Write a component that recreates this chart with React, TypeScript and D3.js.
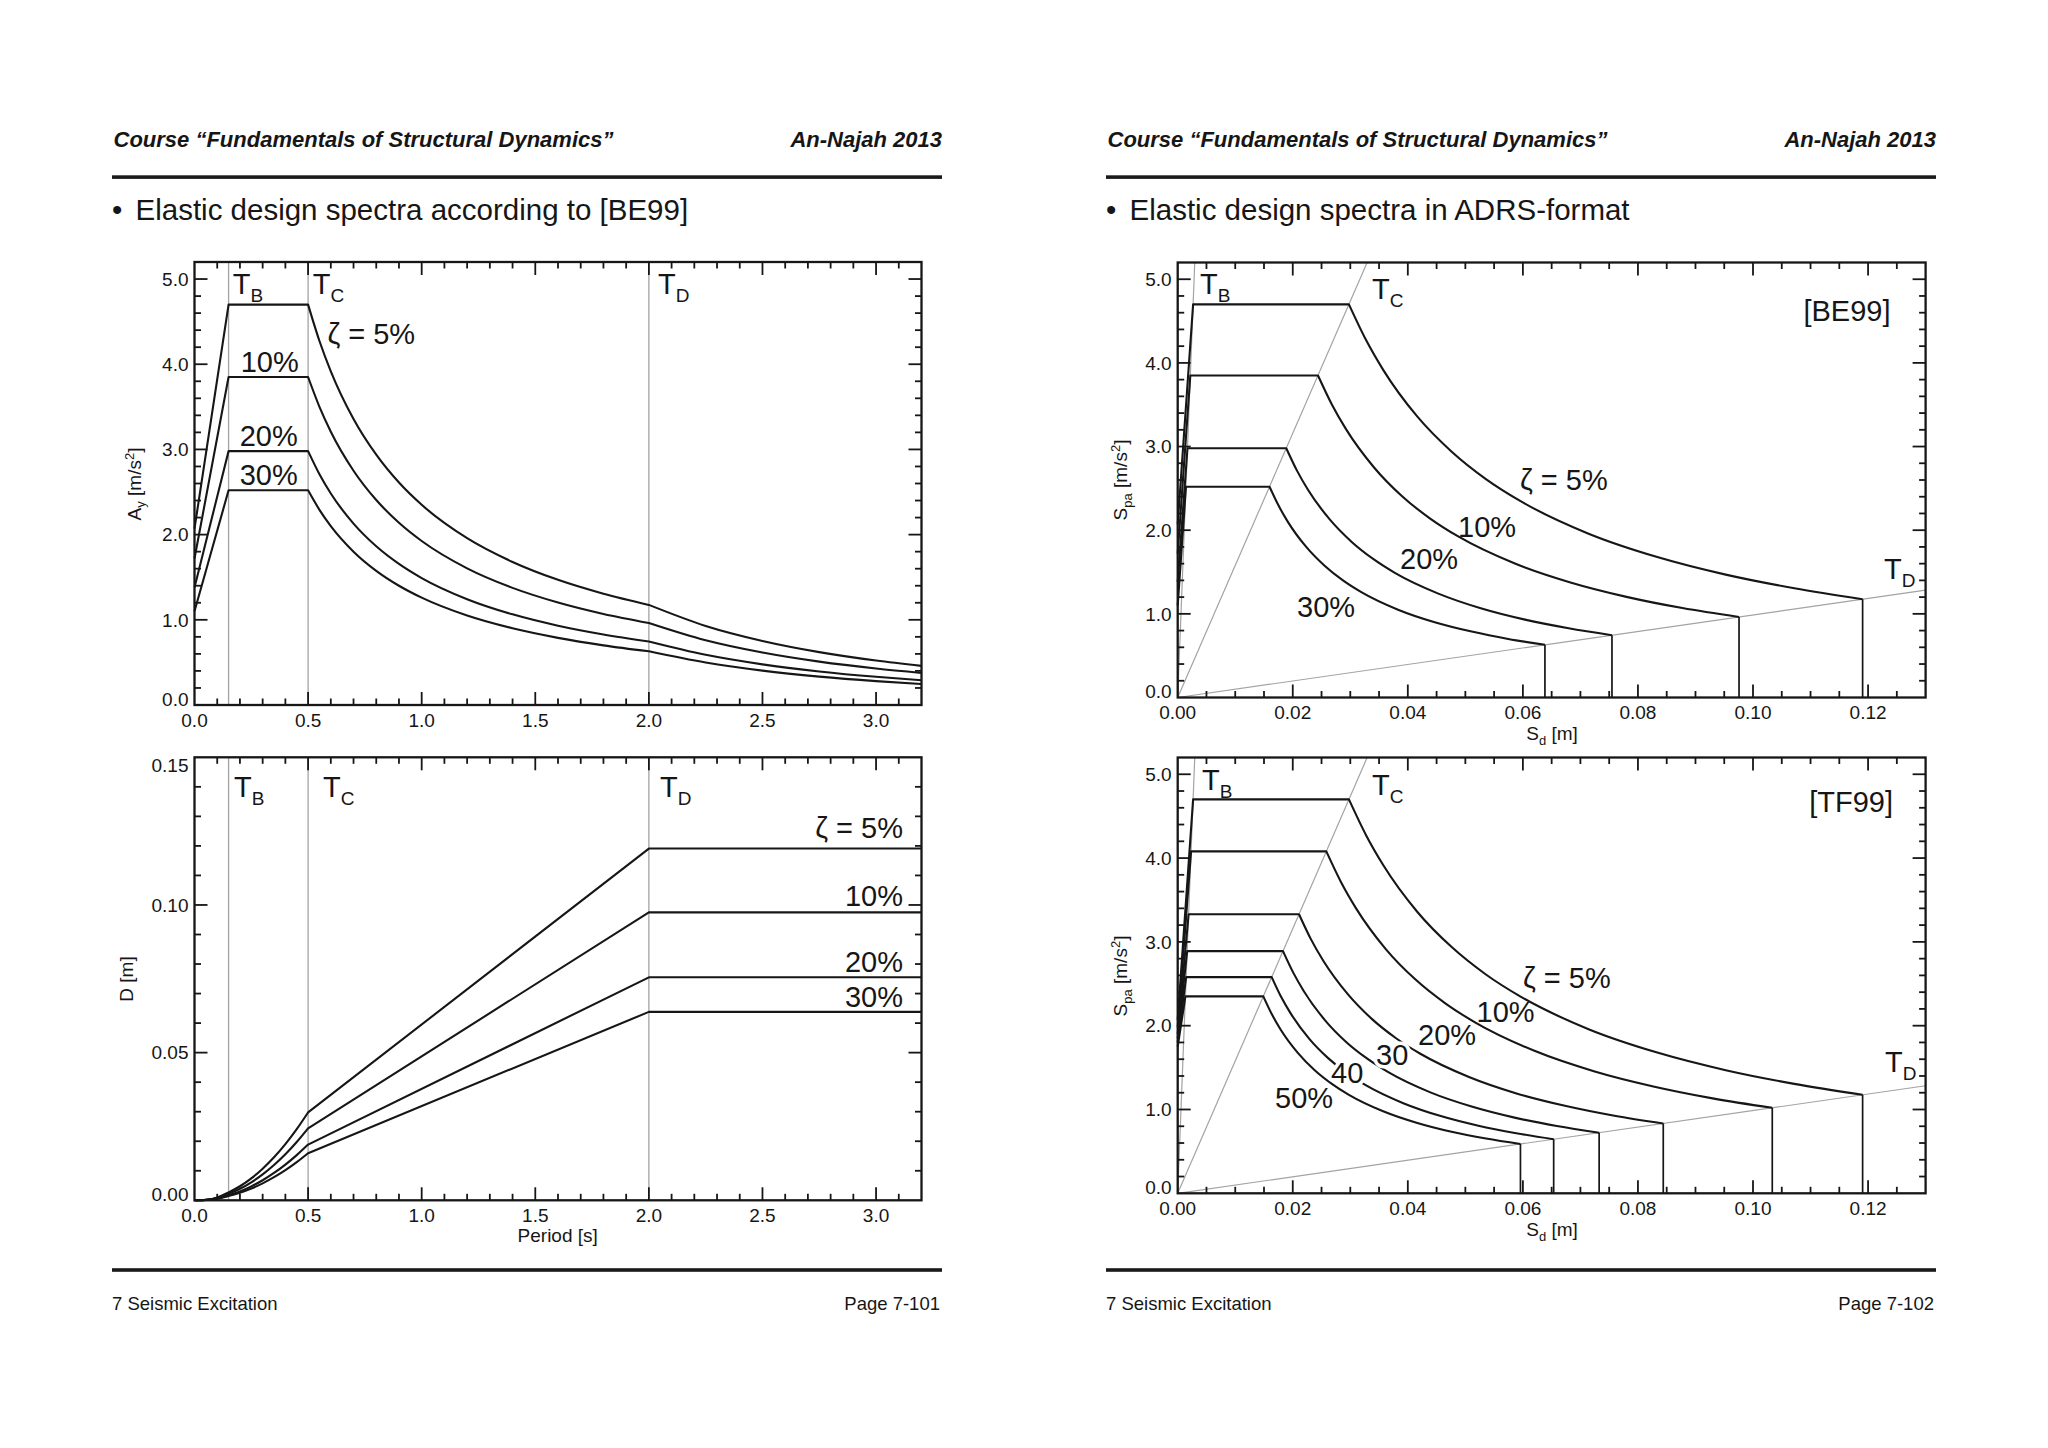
import React from "react";
import * as d3 from "d3";

// ---------------- data ----------------
const CORNER_PERIODS = [0.15, 0.5, 2.0];
const CORNER_NAMES = ["B", "C", "D"];

// Elastic design spectra [BE99], A_y (m/s^2) read at these periods (s)
const PERIODS = [0, 0.15, 0.5, 0.55, 0.6, 0.7, 0.8, 0.9, 1.0, 1.2, 1.4, 1.6, 1.8, 2.0, 2.25, 2.5, 2.75, 3.0, 3.2];
const BE99_NAMES = ["ζ = 5%", "10%", "20%", "30%"];
const BE99_SA_5 = [2.07, 4.7, 4.7, 4.273, 3.917, 3.357, 2.938, 2.611, 2.35, 1.958, 1.679, 1.469, 1.306, 1.175, 0.928, 0.752, 0.621, 0.522, 0.459];
const BE99_SA_10 = [1.72, 3.85, 3.85, 3.5, 3.208, 2.75, 2.406, 2.139, 1.925, 1.604, 1.375, 1.203, 1.069, 0.963, 0.76, 0.616, 0.509, 0.428, 0.376];
const BE99_SA_20 = [1.38, 2.98, 2.98, 2.709, 2.483, 2.129, 1.863, 1.656, 1.49, 1.242, 1.064, 0.931, 0.828, 0.745, 0.589, 0.477, 0.394, 0.331, 0.291];
const BE99_SA_30 = [1.1, 2.52, 2.52, 2.291, 2.1, 1.8, 1.575, 1.4, 1.26, 1.05, 0.9, 0.788, 0.7, 0.63, 0.498, 0.403, 0.333, 0.28, 0.246];

// Displacement spectra D (m)
const D_PERIODS = [0, 0.05, 0.1, 0.15, 0.2, 0.25, 0.3, 0.35, 0.4, 0.45, 0.5, 2.0, 3.2];
const D_5 = [0, 0.00019, 0.00097, 0.00268, 0.00476, 0.00744, 0.01071, 0.01458, 0.01905, 0.02411, 0.02976, 0.1191, 0.1191];
const D_10 = [0, 0.00015, 0.0008, 0.00219, 0.0039, 0.0061, 0.00878, 0.01195, 0.0156, 0.01975, 0.02438, 0.0975, 0.0975];
const D_20 = [0, 0.00012, 0.00062, 0.0017, 0.00302, 0.00472, 0.00679, 0.00925, 0.01208, 0.01529, 0.01887, 0.0755, 0.0755];
const D_30 = [0, 0.0001, 0.00052, 0.00144, 0.00255, 0.00399, 0.00575, 0.00782, 0.01021, 0.01293, 0.01596, 0.0638, 0.0638];

// [TF99] spectra, S_pa (m/s^2) at these periods (s)
const ADRS_PERIODS = [0, 0.15, 0.5, 0.55, 0.6, 0.7, 0.8, 0.9, 1.0, 1.2, 1.4, 1.6, 1.8, 2.0];
const TF99_NAMES = ["ζ = 5%", "10%", "20%", "30", "40", "50%"];
const TF99_SA_5 = [2.07, 4.7, 4.7, 4.273, 3.917, 3.357, 2.938, 2.611, 2.35, 1.958, 1.679, 1.469, 1.306, 1.175];
const TF99_SA_10 = [1.98, 4.08, 4.08, 3.709, 3.4, 2.914, 2.55, 2.267, 2.04, 1.7, 1.457, 1.275, 1.133, 1.02];
const TF99_SA_20 = [1.9, 3.33, 3.33, 3.027, 2.775, 2.379, 2.081, 1.85, 1.665, 1.388, 1.189, 1.041, 0.925, 0.833];
const TF99_SA_30 = [1.85, 2.89, 2.89, 2.627, 2.408, 2.064, 1.806, 1.606, 1.445, 1.204, 1.032, 0.903, 0.803, 0.723];
const TF99_SA_40 = [1.8, 2.58, 2.58, 2.345, 2.15, 1.843, 1.613, 1.433, 1.29, 1.075, 0.921, 0.806, 0.717, 0.645];
const TF99_SA_50 = [1.75, 2.35, 2.35, 2.136, 1.958, 1.679, 1.469, 1.306, 1.175, 0.979, 0.839, 0.734, 0.653, 0.588];

// axis ticks
const X_TICKS_PERIOD = [0, 0.5, 1.0, 1.5, 2.0, 2.5, 3.0];
const Y_TICKS_SA = [0, 1, 2, 3, 4, 5];
const Y_TICKS_D = [0, 0.05, 0.1, 0.15];
const X_TICKS_SD = [0, 0.02, 0.04, 0.06, 0.08, 0.1, 0.12];
const MINOR_PERIOD = 0.1;
const MINOR_SA = 0.2;
const MINOR_D = 0.01;
const MINOR_SD = 0.005;

// ---------------- styling ----------------
const FONT = "'Liberation Sans', Arial, Helvetica, sans-serif";
const INK = "#161616";
const GUIDE = "#a3a3a3";
const CURVE_W = 2.1;
const TICK_FS = 19;
const LABEL_FS = 29;

const lin = d3.line<[number, number]>().curve(d3.curveLinear);
const mono = d3.line<[number, number]>().curve(d3.curveMonotoneX);
const join = (...ds: (string | null)[]) =>
  ds.map((d, i) => (i === 0 ? d || "" : (d || "").replace(/^M/, "L"))).join("");
const toSd = (t: number, sa: number) => (sa * t * t) / (4 * Math.PI * Math.PI);

function Frame({ xs, ys, xMajor, xStep, yMajor, yStep, xFmt, yFmt }: any) {
  const [x0, x1] = xs.range();
  const [y1, y0] = ys.range();
  const [dx0, dx1] = xs.domain();
  const [dy0, dy1] = ys.domain();
  const xMinor = d3.range(Math.floor((dx1 - dx0) / xStep + 1e-6) + 1).map((i) => dx0 + i * xStep);
  const yMinor = d3.range(Math.floor((dy1 - dy0) / yStep + 1e-6) + 1).map((i) => dy0 + i * yStep);
  const isMaj = (v: number, arr: number[], step: number) => arr.some((m) => Math.abs(m - v) < step * 0.01);
  const els: any[] = [];
  xMinor.forEach((v, i) => {
    const px = xs(v);
    if (px <= x0 + 1 || px >= x1 - 1) return;
    const L = isMaj(v, xMajor, xStep) ? 13 : 6.5;
    els.push(<line key={"xb" + i} x1={px} x2={px} y1={y1} y2={y1 - L} />);
    els.push(<line key={"xt" + i} x1={px} x2={px} y1={y0} y2={y0 + L} />);
  });
  yMinor.forEach((v, i) => {
    const py = ys(v);
    if (py <= y0 + 1 || py >= y1 - 1) return;
    const L = isMaj(v, yMajor, yStep) ? 13 : 6.5;
    els.push(<line key={"yl" + i} x1={x0} x2={x0 + L} y1={py} y2={py} />);
    els.push(<line key={"yr" + i} x1={x1} x2={x1 - L} y1={py} y2={py} />);
  });
  return (
    <g>
      <g stroke={INK} strokeWidth={1.8}>{els}</g>
      <rect x={x0} y={y0} width={x1 - x0} height={y1 - y0} fill="none" stroke={INK} strokeWidth={2.3} />
      <g fontSize={TICK_FS} fill={INK} textAnchor="middle">
        {xMajor.map((v: number) => (
          <text key={"xl" + v} x={xs(v)} y={y1 + 21.7}>
            {xFmt(v)}
          </text>
        ))}
      </g>
      <g fontSize={TICK_FS} fill={INK} textAnchor="end">
        {yMajor.map((v: number) => (
          <text key={"yl" + v} x={x0 - 6} y={Math.max(y0 + 8, Math.min(y1 - 6, ys(v))) + 6.8}>
            {yFmt(v)}
          </text>
        ))}
      </g>
    </g>
  );
}

function TLabel({ x, y, sub }: any) {
  return (
    <text x={x} y={y} fontSize={LABEL_FS} fill={INK}>
      T
      <tspan fontSize={19} dy={8}>
        {sub}
      </tspan>
    </text>
  );
}

function PageHeader({ dx, bullet }: any) {
  return (
    <g fill={INK}>
      <text x={113.5 + dx} y={146.5} fontSize={22} fontWeight={700} fontStyle="italic">
        Course “Fundamentals of Structural Dynamics”
      </text>
      <text x={942 + dx} y={146.5} fontSize={22} fontWeight={700} fontStyle="italic" textAnchor="end">
        An-Najah 2013
      </text>
      <rect x={112 + dx} y={175.3} width={830} height={3.6} fill="#1a1a1a" />
      <text x={112 + dx} y={219.5} fontSize={29.5}>
        •
      </text>
      <text x={135.5 + dx} y={219.5} fontSize={29.5}>
        {bullet}
      </text>
      <rect x={112 + dx} y={1268.2} width={830} height={3.6} fill="#1a1a1a" />
    </g>
  );
}

export default function App() {
  // scales
  const tlX = d3.scaleLinear().domain([0, 3.2]).range([194.5, 921.5]);
  const tlY = d3.scaleLinear().domain([0, 5.2]).range([705, 262]);
  const blX = d3.scaleLinear().domain([0, 3.2]).range([194.5, 921.5]);
  const blY = d3.scaleLinear().domain([0, 0.15]).range([1200.3, 757.3]);
  const trX = d3.scaleLinear().domain([0, 0.13]).range([1177.7, 1925.6]);
  const trY = d3.scaleLinear().domain([0, 5.2]).range([697.5, 262.5]);
  const brX = d3.scaleLinear().domain([0, 0.13]).range([1177.7, 1925.6]);
  const brY = d3.scaleLinear().domain([0, 5.2]).range([1193.3, 757.5]);

  const f1 = d3.format(".1f");
  const f2 = d3.format(".2f");

  const be99 = [BE99_SA_5, BE99_SA_10, BE99_SA_20, BE99_SA_30];
  const dSeries = [D_5, D_10, D_20, D_30];
  const tf99 = [TF99_SA_5, TF99_SA_10, TF99_SA_20, TF99_SA_30, TF99_SA_40, TF99_SA_50];

  const inRange = (t: number, lo: number, hi: number) => t >= lo - 1e-9 && t <= hi + 1e-9;

  const saPath = (vals: number[], xs: any, ys: any) => {
    const pts = PERIODS.map((t, i) => [t, vals[i]] as [number, number]);
    const seg = (lo: number, hi: number) =>
      pts.filter(([t]) => inRange(t, lo, hi)).map(([t, v]) => [xs(t), ys(v)] as [number, number]);
    return join(lin(seg(0, 0.5)), mono(seg(0.5, 2.0)), mono(seg(2.0, 3.2)));
  };

  const dPath = (vals: number[], xs: any, ys: any) => {
    const pts = D_PERIODS.map((t, i) => [t, vals[i]] as [number, number]);
    const seg = (lo: number, hi: number) =>
      pts.filter(([t]) => inRange(t, lo, hi)).map(([t, v]) => [xs(t), ys(v)] as [number, number]);
    return join(mono(seg(0, 0.5)), lin(seg(0.5, 3.2)));
  };

  const adrsPaths = (periods: number[], vals: number[], xs: any, ys: any) => {
    const pts = periods.map((t, i) => ({ t, sd: toSd(t, vals[i]), sa: vals[i] })).filter((p) => p.t <= 2.0 + 1e-9);
    const seg = (lo: number, hi: number) =>
      pts.filter((p) => inRange(p.t, lo, hi)).map((p) => [xs(p.sd), ys(p.sa)] as [number, number]);
    const last = pts[pts.length - 1];
    return {
      curve: join(lin(seg(0, 0.5)), mono(seg(0.5, 2.0))),
      drop: lin([
        [xs(last.sd), ys(last.sa)],
        [xs(last.sd), ys(0)],
      ]),
    };
  };

  const radial = (xs: any, ys: any) =>
    CORNER_PERIODS.map((T) => {
      const k = Math.pow((2 * Math.PI) / T, 2);
      const xMax = xs.domain()[1];
      const yMax = ys.domain()[1];
      const end = yMax / k <= xMax ? [yMax / k, yMax] : [xMax, k * xMax];
      return lin([
        [xs(0), ys(0)],
        [xs(end[0]), ys(end[1])],
      ]);
    });

  const tlLabelPos = [
    [327.4, 344],
    [240.7, 371.7],
    [239.7, 446],
    [239.7, 485],
  ];
  const blLabelPos = [838.3, 906, 971.7, 1006.7];
  const trLabelPos = [
    [1520, 490],
    [1458, 536.7],
    [1400, 569.3],
    [1297, 616.7],
  ];
  const brLabelPos = [
    [1523, 988.3],
    [1476.5, 1021.7],
    [1418, 1045],
    [1376, 1065],
    [1331, 1083.3],
    [1275, 1108.3],
  ];

  return (
    <svg
      width={2048}
      height={1448}
      viewBox="0 0 2048 1448"
      style={{ position: "absolute", left: 0, top: 0, display: "block", background: "#fff" }}
      fontFamily={FONT}
    >
      <rect x={0} y={0} width={2048} height={1448} fill="#fff" />

      <PageHeader dx={0} bullet="Elastic design spectra according to [BE99]" />
      <PageHeader dx={994} bullet="Elastic design spectra in ADRS-format" />

      <g fontSize={18.5} fill={INK}>
        <text x={112} y={1310}>7 Seismic Excitation</text>
        <text x={940} y={1310} textAnchor="end">
          Page 7-101
        </text>
        <text x={1106} y={1310}>7 Seismic Excitation</text>
        <text x={1934} y={1310} textAnchor="end">
          Page 7-102
        </text>
      </g>

      {/* ---------- top-left: A_y vs period ---------- */}
      <g>
        {CORNER_PERIODS.map((T) => (
          <line key={T} x1={tlX(T)} x2={tlX(T)} y1={tlY(0)} y2={tlY(5.2)} stroke={GUIDE} strokeWidth={1.3} />
        ))}
        <g fill="none" stroke={INK} strokeWidth={CURVE_W} strokeLinejoin="round">
          {be99.map((vals, i) => (
            <path key={i} d={saPath(vals, tlX, tlY)} />
          ))}
        </g>
        <Frame xs={tlX} ys={tlY} xMajor={X_TICKS_PERIOD} xStep={MINOR_PERIOD} yMajor={Y_TICKS_SA} yStep={MINOR_SA} xFmt={f1} yFmt={f1} />
        <TLabel x={232.7} y={294} sub={CORNER_NAMES[0]} />
        <TLabel x={312.8} y={294} sub={CORNER_NAMES[1]} />
        <TLabel x={658} y={294} sub={CORNER_NAMES[2]} />
        <g fontSize={LABEL_FS} fill={INK}>
          {BE99_NAMES.map((n, i) => (
            <text key={n} x={tlLabelPos[i][0]} y={tlLabelPos[i][1]}>
              {n}
            </text>
          ))}
        </g>
        <text transform="translate(141,484) rotate(-90)" textAnchor="middle" fontSize={TICK_FS} fill={INK}>
          A
          <tspan fontSize={13} dy={4}>
            y
          </tspan>
          <tspan dy={-4}> [m/s</tspan>
          <tspan fontSize={13} dy={-7}>
            2
          </tspan>
          <tspan dy={7}>]</tspan>
        </text>
      </g>

      {/* ---------- bottom-left: D vs period ---------- */}
      <g>
        {CORNER_PERIODS.map((T) => (
          <line key={T} x1={blX(T)} x2={blX(T)} y1={blY(0)} y2={blY(0.15)} stroke={GUIDE} strokeWidth={1.3} />
        ))}
        <g fill="none" stroke={INK} strokeWidth={CURVE_W} strokeLinejoin="round">
          {dSeries.map((vals, i) => (
            <path key={i} d={dPath(vals, blX, blY)} />
          ))}
        </g>
        <Frame xs={blX} ys={blY} xMajor={X_TICKS_PERIOD} xStep={MINOR_PERIOD} yMajor={Y_TICKS_D} yStep={MINOR_D} xFmt={f1} yFmt={f2} />
        <TLabel x={234} y={797} sub={CORNER_NAMES[0]} />
        <TLabel x={323} y={797} sub={CORNER_NAMES[1]} />
        <TLabel x={660} y={797} sub={CORNER_NAMES[2]} />
        <g fontSize={LABEL_FS} fill={INK} textAnchor="end">
          {BE99_NAMES.map((n, i) => (
            <text key={n} x={903} y={blLabelPos[i]}>
              {n}
            </text>
          ))}
        </g>
        <text transform="translate(133,979) rotate(-90)" textAnchor="middle" fontSize={TICK_FS} fill={INK}>
          D [m]
        </text>
        <text x={557.7} y={1241.7} textAnchor="middle" fontSize={TICK_FS} fill={INK}>
          Period [s]
        </text>
      </g>

      {/* ---------- top-right: ADRS [BE99] ---------- */}
      <g>
        <g stroke={GUIDE} strokeWidth={1.2} fill="none">
          {radial(trX, trY).map((d, i) => (
            <path key={i} d={d || ""} />
          ))}
        </g>
        <g fill="none" stroke={INK} strokeLinejoin="round">
          {be99.map((vals, i) => {
            const p = adrsPaths(PERIODS, vals, trX, trY);
            return (
              <g key={i}>
                <path d={p.curve} strokeWidth={CURVE_W} />
                <path d={p.drop || ""} strokeWidth={1.7} />
              </g>
            );
          })}
        </g>
        <Frame xs={trX} ys={trY} xMajor={X_TICKS_SD} xStep={MINOR_SD} yMajor={Y_TICKS_SA} yStep={MINOR_SA} xFmt={f2} yFmt={f1} />
        <TLabel x={1200} y={294} sub={CORNER_NAMES[0]} />
        <TLabel x={1372} y={298.5} sub={CORNER_NAMES[1]} />
        <TLabel x={1884} y={579} sub={CORNER_NAMES[2]} />
        <text x={1890.5} y={321} textAnchor="end" fontSize={LABEL_FS} fill={INK}>
          [BE99]
        </text>
        <g fontSize={LABEL_FS} fill={INK}>
          {BE99_NAMES.map((n, i) => (
            <text key={n} x={trLabelPos[i][0]} y={trLabelPos[i][1]}>
              {n}
            </text>
          ))}
        </g>
        <text transform="translate(1127,480) rotate(-90)" textAnchor="middle" fontSize={TICK_FS} fill={INK}>
          S
          <tspan fontSize={13} dy={5}>
            pa
          </tspan>
          <tspan dy={-5}> [m/s</tspan>
          <tspan fontSize={13} dy={-7}>
            2
          </tspan>
          <tspan dy={7}>]</tspan>
        </text>
        <text x={1552} y={740} textAnchor="middle" fontSize={TICK_FS} fill={INK}>
          S
          <tspan fontSize={13} dy={5}>
            d
          </tspan>
          <tspan dy={-5}> [m]</tspan>
        </text>
      </g>

      {/* ---------- bottom-right: ADRS [TF99] ---------- */}
      <g>
        <g stroke={GUIDE} strokeWidth={1.2} fill="none">
          {radial(brX, brY).map((d, i) => (
            <path key={i} d={d || ""} />
          ))}
        </g>
        <g fill="none" stroke={INK} strokeLinejoin="round">
          {tf99.map((vals, i) => {
            const p = adrsPaths(ADRS_PERIODS, vals, brX, brY);
            return (
              <g key={i}>
                <path d={p.curve} strokeWidth={CURVE_W} />
                <path d={p.drop || ""} strokeWidth={1.7} />
              </g>
            );
          })}
        </g>
        <Frame xs={brX} ys={brY} xMajor={X_TICKS_SD} xStep={MINOR_SD} yMajor={Y_TICKS_SA} yStep={MINOR_SA} xFmt={f2} yFmt={f1} />
        <TLabel x={1202} y={790} sub={CORNER_NAMES[0]} />
        <TLabel x={1372} y={795} sub={CORNER_NAMES[1]} />
        <TLabel x={1885} y={1072} sub={CORNER_NAMES[2]} />
        <text x={1893} y={811.7} textAnchor="end" fontSize={LABEL_FS} fill={INK}>
          [TF99]
        </text>
        <g fontSize={LABEL_FS} fill={INK}>
          {TF99_NAMES.map((n, i) => (
            <text
              key={n}
              x={brLabelPos[i][0]}
              y={brLabelPos[i][1]}
              stroke={i === 3 || i === 4 ? "#fff" : "none"}
              strokeWidth={i === 3 || i === 4 ? 7 : 0}
              strokeLinejoin="round"
              paintOrder="stroke"
            >
              {n}
            </text>
          ))}
        </g>
        <text transform="translate(1127,976) rotate(-90)" textAnchor="middle" fontSize={TICK_FS} fill={INK}>
          S
          <tspan fontSize={13} dy={5}>
            pa
          </tspan>
          <tspan dy={-5}> [m/s</tspan>
          <tspan fontSize={13} dy={-7}>
            2
          </tspan>
          <tspan dy={7}>]</tspan>
        </text>
        <text x={1552} y={1236} textAnchor="middle" fontSize={TICK_FS} fill={INK}>
          S
          <tspan fontSize={13} dy={5}>
            d
          </tspan>
          <tspan dy={-5}> [m]</tspan>
        </text>
      </g>
    </svg>
  );
}
